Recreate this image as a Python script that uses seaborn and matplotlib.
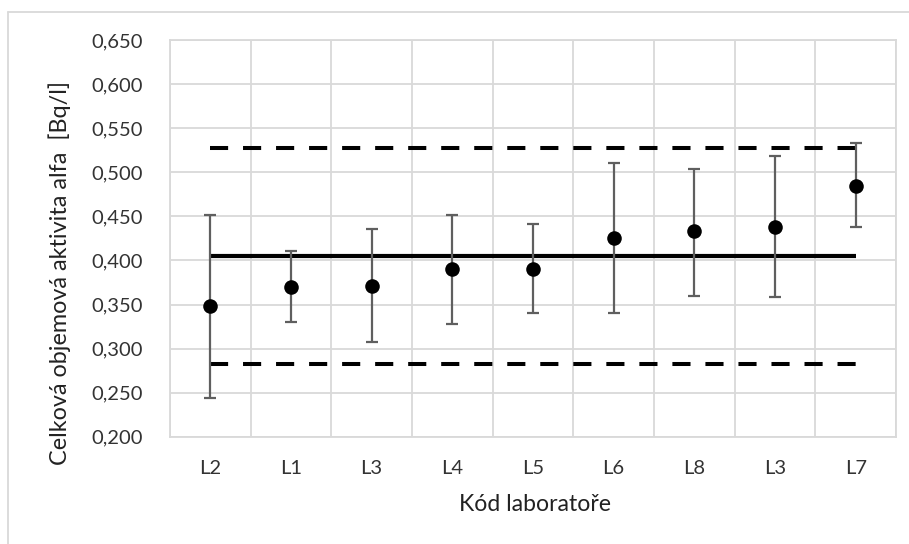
import numpy as np
import pandas as pd
import matplotlib
matplotlib.use("Agg")
import matplotlib.pyplot as plt
import seaborn as sns
from matplotlib.lines import Line2D

# data
labs = ["L2", "L1", "L3", "L4", "L5", "L6", "L8", "L3", "L7"]
activity = [0.348, 0.370, 0.371, 0.390, 0.390, 0.425, 0.433, 0.438, 0.484]
err_low = [0.244, 0.330, 0.308, 0.328, 0.340, 0.340, 0.360, 0.359, 0.438]
err_high = [0.451, 0.411, 0.436, 0.452, 0.441, 0.510, 0.504, 0.518, 0.533]
ref_value = 0.405
limit_low = 0.283
limit_high = 0.527
y_ticks = [0.200, 0.250, 0.300, 0.350, 0.400, 0.450, 0.500, 0.550, 0.600, 0.650]

sns.set_theme(style="white")
plt.rcParams['font.family'] = ['Lato', 'DejaVu Sans']

df = pd.DataFrame({'pos': np.arange(len(labs)), 'lab': labs, 'activity': activity,
                   'low': err_low, 'high': err_high})

fig = plt.figure(figsize=(9.09, 5.44), dpi=100)
ax = fig.add_axes([0.187, 0.197, 0.7987, 0.7295])

grid_c = '#d9d9d9'
for y in y_ticks:
    ax.axhline(y, color=grid_c, lw=1.3, zorder=0)
for b in np.arange(len(labs) + 1) - 0.5:
    ax.axvline(b, color=grid_c, lw=1.3, zorder=0)

first, last = df['pos'].min(), df['pos'].max()
ax.hlines(ref_value, first, last, color='black', lw=3, zorder=2)
for lim in (limit_low, limit_high):
    ax.hlines(lim, first, last, color='black', lw=2.9, linestyles=(0, (4.5, 3.7)), zorder=2)

ax.errorbar(df['pos'], df['activity'],
            yerr=[df['activity'] - df['low'], df['high'] - df['activity']],
            fmt='none', ecolor='#5f5f5f', elinewidth=1.6, capsize=4.5, capthick=1.6, zorder=3)
sns.scatterplot(data=df, x='pos', y='activity', color='black', s=110, edgecolor='black',
                linewidth=0, ax=ax, zorder=4)

ax.set_xlim(-0.5, len(labs) - 0.5)
ax.set_ylim(0.200, 0.650)
ax.set_xticks(df['pos'])
ax.set_xticklabels(labs)
ax.set_yticks(y_ticks)
ax.set_yticklabels([f"{v:.3f}".replace('.', ',') for v in y_ticks])
ax.tick_params(axis='both', length=0, labelsize=14.5, colors='#333333')
ax.tick_params(axis='x', pad=17)
ax.tick_params(axis='y', pad=19.5)
for s in ax.spines.values():
    s.set_color(grid_c)
    s.set_linewidth(1.3)

ax.set_xlabel('Kód laboratoře', fontsize=16.6, color='#222222')
ax.set_ylabel('Celková objemová aktivita alfa  [Bq/l]', fontsize=16.8, color='#222222')
ax.xaxis.set_label_coords(0.503, -0.145)
ax.yaxis.set_label_coords(-0.136, 0.413)

# chart area border (only top and left visible)
fig.add_artist(Line2D([8 / 909, 8 / 909], [0, 1 - 12 / 544], transform=fig.transFigure,
                      color=grid_c, lw=1.3))
fig.add_artist(Line2D([8 / 909, 1], [1 - 12 / 544, 1 - 12 / 544], transform=fig.transFigure,
                      color=grid_c, lw=1.3))

fig.savefig('out.png', dpi=100)
